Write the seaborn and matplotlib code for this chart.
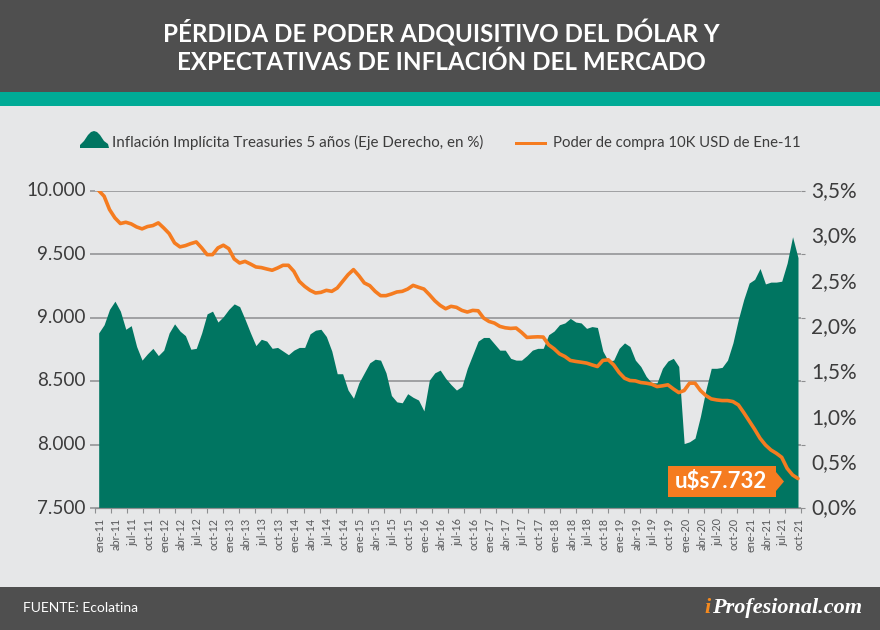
import matplotlib
matplotlib.use("Agg")
import matplotlib.pyplot as plt
import matplotlib.patches as mpatches
from matplotlib.transforms import ScaledTranslation
import seaborn as sns
import numpy as np
import pandas as pd

# Valores (mensuales, ene-11 a oct-21)
inflacion = [
    1.93, 2.02, 2.19, 2.28, 2.17, 1.97, 2.01, 1.78, 1.63, 1.70, 1.76, 1.68,
    1.74, 1.93, 2.03, 1.95, 1.90, 1.75, 1.76, 1.93, 2.14, 2.17, 2.05, 2.11,
    2.19, 2.25, 2.22, 2.08, 1.93, 1.79, 1.86, 1.84, 1.76, 1.77, 1.73, 1.69,
    1.74, 1.77, 1.77, 1.92, 1.96, 1.97, 1.89, 1.73, 1.48, 1.48, 1.30, 1.21,
    1.38, 1.49, 1.60, 1.64, 1.63, 1.49, 1.24, 1.17, 1.16, 1.26, 1.22, 1.19,
    1.07, 1.41, 1.49, 1.52, 1.43, 1.36, 1.30, 1.34, 1.54, 1.69, 1.84, 1.88,
    1.88, 1.81, 1.74, 1.74, 1.65, 1.63, 1.63, 1.68, 1.74, 1.76, 1.76, 1.91,
    1.95, 2.02, 2.04, 2.09, 2.05, 2.04, 1.98, 2.00, 1.99, 1.73, 1.62, 1.63,
    1.76, 1.82, 1.78, 1.63, 1.56, 1.45, 1.38, 1.38, 1.54, 1.62, 1.65, 1.56,
    0.71, 0.73, 0.77, 1.01, 1.30, 1.54, 1.54, 1.55, 1.63, 1.82, 2.08, 2.30,
    2.48, 2.52, 2.64, 2.47, 2.49, 2.49, 2.50, 2.70, 2.99, 2.76,
]
poder_compra = [
    10000, 9955, 9850, 9784, 9740, 9750, 9737, 9713, 9698, 9716, 9724, 9745,
    9705, 9661, 9587, 9556, 9566, 9582, 9595, 9548, 9495, 9495, 9548, 9569,
    9542, 9461, 9429, 9442, 9421, 9398, 9393, 9382, 9372, 9390, 9411, 9411,
    9364, 9285, 9245, 9214, 9193, 9198, 9214, 9206, 9232, 9285, 9337, 9377,
    9329, 9272, 9251, 9206, 9172, 9172, 9185, 9201, 9206, 9224, 9253, 9238,
    9224, 9180, 9132, 9095, 9069, 9088, 9080, 9056, 9043, 9056, 9053, 8996,
    8969, 8956, 8930, 8919, 8914, 8917, 8883, 8843, 8846, 8848, 8846, 8785,
    8754, 8714, 8693, 8662, 8654, 8648, 8641, 8627, 8614, 8662, 8667, 8627,
    8567, 8522, 8504, 8501, 8488, 8483, 8475, 8456, 8462, 8470, 8438, 8409,
    8425, 8483, 8483, 8425, 8386, 8359, 8351, 8346, 8346, 8338, 8312, 8251,
    8186, 8120, 8049, 7996, 7957, 7931, 7899, 7812, 7760, 7732,
]
etiquetas_x = [
    "ene-11", "abr-11", "jul-11", "oct-11", "ene-12", "abr-12", "jul-12", "oct-12",
    "ene-13", "abr-13", "jul-13", "oct-13", "ene-14", "abr-14", "jul-14", "oct-14",
    "ene-15", "abr-15", "jul-15", "oct-15", "ene-16", "abr-16", "jul-16", "oct-16",
    "ene-17", "abr-17", "jul-17", "oct-17", "ene-18", "abr-18", "jul-18", "oct-18",
    "ene-19", "abr-19", "jul-19", "oct-19", "ene-20", "abr-20", "jul-20", "oct-20",
    "ene-21", "abr-21", "jul-21", "oct-21",
]
ticks_izq = [7500, 8000, 8500, 9000, 9500, 10000]
ticks_izq_txt = ["7.500", "8.000", "8.500", "9.000", "9.500", "10.000"]
ticks_der = [0.0, 0.5, 1.0, 1.5, 2.0, 2.5, 3.0, 3.5]
ticks_der_txt = ["0,0%", "0,5%", "1,0%", "1,5%", "2,0%", "2,5%", "3,0%", "3,5%"]

W, H = 880, 630
FONDO = "#e6e7e8"
OSCURO = "#4f4f4f"
TEAL = "#00ab96"
VERDE = "#007561"
NARANJA = "#f57c20"
TEXTO = "#3c3c3c"
GRILLA = "#8d8e90"
FUENTE = "Lato"

sns.set_theme(style="white")
plt.rcParams["font.family"] = [FUENTE, "DejaVu Sans"]

df = pd.DataFrame({"mes": np.arange(len(inflacion)), "inflacion": inflacion, "poder": poder_compra})

fig = plt.figure(figsize=(W / 100, H / 100), dpi=100, facecolor=FONDO)


def px_rect(x0, y0, x1, y1, color, zorder=5):
    fig.add_artist(mpatches.Rectangle((x0 / W, 1 - y1 / H), (x1 - x0) / W, (y1 - y0) / H,
                                      transform=fig.transFigure, facecolor=color, edgecolor="none",
                                      zorder=zorder))


def px_poly(puntos, color, zorder=5):
    pts = [(x / W, 1 - y / H) for x, y in puntos]
    fig.add_artist(mpatches.Polygon(pts, closed=True, transform=fig.transFigure,
                                    facecolor=color, edgecolor="none", zorder=zorder))


def px_text(x, y, s, **kw):
    fig.text(x / W, 1 - y / H, s, va="center", zorder=6, **kw)


# Eje derecho: area y grilla (queda por debajo del eje izquierdo)
pos = [95 / W, 1 - 508 / H, 705.7 / W, 317.5 / H]
ax = fig.add_axes(pos)
ax_der = ax.twinx()
ax.set_zorder(2)
ax_der.set_zorder(1)
ax.patch.set_visible(False)
ax_der.patch.set_visible(False)

ax_der.fill_between(df["mes"], df["inflacion"], 0, color=VERDE, linewidth=0, zorder=2)
ax_der.set_ylim(0, 3.5)
ax_der.set_axisbelow(True)
ax_der.yaxis.remove_overlapping_locs = False
ax_der.set_yticks(np.linspace(0, 3.5, 6))
ax_der.set_yticklabels([])
ax_der.set_yticks(ticks_der, minor=True)
ax_der.set_yticklabels(ticks_der_txt, minor=True, fontsize=15, color=TEXTO)
ax_der.grid(True, axis="y", which="major", color=GRILLA, linewidth=1.1)
ax_der.tick_params(axis="y", which="major", right=True, length=3, width=0.8, color=GRILLA)
ax_der.tick_params(axis="y", which="minor", right=False, length=0, pad=7.5)

# Eje izquierdo: poder de compra
sns.lineplot(data=df, x="mes", y="poder", ax=ax, color=NARANJA, linewidth=2.6, zorder=3,
             solid_capstyle="round")
ax.set_ylim(7500, 10000)
ax.set_xlim(-0.68, 129.5)
ax.set_xlabel("")
ax.set_ylabel("")
ax.set_yticks(ticks_izq)
ax.set_yticklabels(ticks_izq_txt, fontsize=13.6, color=TEXTO)
ax.tick_params(axis="y", left=True, length=3.6, width=1.1, color=GRILLA, pad=3)

# Las etiquetas de Lato quedan un poco bajas respecto de la marca
sube = ScaledTranslation(0, 1.5 / 100, fig.dpi_scale_trans)
for etiqueta in ax.get_yticklabels() + ax_der.get_yticklabels(minor=True):
    etiqueta.set_transform(etiqueta.get_transform() + sube)

# Marcas en los bordes de cada trimestre, etiquetas en el centro
ax.set_xticks(np.linspace(-0.68, 129.5, len(etiquetas_x) + 1))
ax.set_xticklabels([])
ax.set_xticks(np.arange(len(etiquetas_x)) * 3 + 0.25, minor=True)
ax.set_xticklabels(etiquetas_x, minor=True, rotation=90, fontsize=7.8, color="#58595b")
ax.tick_params(axis="x", which="major", bottom=True, length=3.5, width=0.8, color=GRILLA)
ax.tick_params(axis="x", which="minor", bottom=False, length=0, pad=7)
for a in (ax, ax_der):
    for lado in ("top", "left", "right"):
        a.spines[lado].set_visible(False)
    a.spines["bottom"].set_color(GRILLA)
    a.spines["bottom"].set_linewidth(0.8)

# Bandas de encabezado y pie
px_rect(0, 0, W, 92, OSCURO, zorder=1)
px_rect(0, 92, W, 106, TEAL, zorder=1)
px_rect(0, 587, W, H, OSCURO, zorder=1)
px_text(441, 33, "PÉRDIDA DE PODER ADQUISITIVO DEL DÓLAR Y", color="white", fontsize=17.4,
        fontweight="bold", ha="center")
px_text(441, 62, "EXPECTATIVAS DE INFLACIÓN DEL MERCADO", color="white", fontsize=17.4,
        fontweight="bold", ha="center")

# Leyenda
px_poly([(80, 148), (80, 145), (84, 141), (88, 135), (91, 132), (94, 131), (97, 132),
         (100, 135), (104, 141), (108, 144), (109, 148)], VERDE)
px_text(112, 142.5, "Inflación Implícita Treasuries 5 años (Eje Derecho, en %)", color=TEXTO,
        fontsize=10.9, ha="left")
px_rect(515, 141.5, 547, 144.5, NARANJA)
px_text(553, 142.5, "Poder de compra 10K USD de Ene-11", color=TEXTO, fontsize=10.7, ha="left")

# Etiqueta del ultimo valor
px_rect(668, 466, 776, 497, NARANJA)
px_poly([(776, 472), (784, 481.5), (776, 491)], NARANJA)
ultimo = f"u$s{poder_compra[-1] / 1000:.3f}"
px_text(721, 481.5, ultimo, color="white", fontsize=16, fontweight="bold", ha="center")

# Pie
px_text(23, 608, "FUENTE: Ecolatina", color="white", fontsize=10, ha="left")
px_text(704, 608, "i", color="#f58a1f", fontsize=16, fontweight="bold", style="italic", ha="left",
        family="Liberation Serif")
px_text(862, 608, "Profesional.com", color="white", fontsize=16, fontweight="bold", style="italic",
        ha="right", family="Liberation Serif")

fig.savefig("out.png", dpi=100)
